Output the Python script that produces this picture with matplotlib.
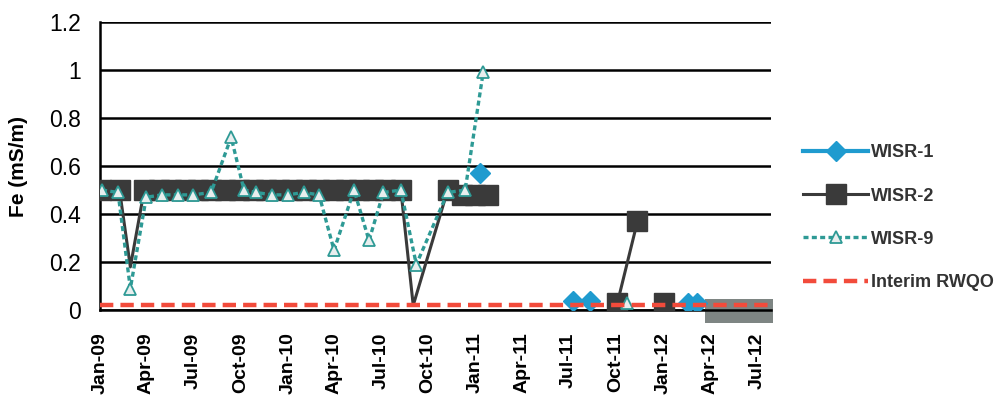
import matplotlib
matplotlib.use("Agg")
import matplotlib.pyplot as plt
import matplotlib.dates as mdates
from matplotlib.patches import Rectangle
import numpy as np
import pandas as pd

plt.rcParams['font.family'] = ['Liberation Sans', 'DejaVu Sans']

# --- WISR-1 (segments separated by None / NaN) ---
wisr1_dates = ["2011-01-10", None, "2011-07-10", "2011-08-12", None, "2012-02-18", "2012-03-06"]
wisr1_vals = [0.57, np.nan, 0.04, 0.04, np.nan, 0.03, 0.03]

# --- WISR-2 ---
wisr2_dates = ["2009-01-03", "2009-02-08", "2009-03-01", "2009-03-28", "2009-04-25",
               "2009-05-20", "2009-06-15", "2009-07-10", "2009-08-05", "2009-09-01",
               "2009-09-28", "2009-10-25", "2009-11-20", "2009-12-15", "2010-01-10",
               "2010-02-05", "2010-03-03", "2010-03-30", "2010-04-25", "2010-05-20",
               "2010-06-15", "2010-07-10", "2010-08-09", "2010-09-02", "2010-11-08",
               "2010-12-05", "2011-01-01", "2011-01-26",
               None, "2011-10-04", "2011-11-12", None, "2012-01-02"]
wisr2_vals = [0.50, 0.50, 0.18, 0.50, 0.50,
              0.50, 0.50, 0.50, 0.50, 0.50,
              0.50, 0.50, 0.50, 0.50, 0.50,
              0.50, 0.50, 0.50, 0.50, 0.50,
              0.50, 0.50, 0.50, 0.02, 0.50,
              0.48, 0.48, 0.48,
              np.nan, 0.03, 0.37, np.nan, 0.03]

# --- WISR-9 ---
wisr9_dates = ["2009-01-05", "2009-02-05", "2009-03-01", "2009-04-01", "2009-05-01",
               "2009-06-01", "2009-07-01", "2009-08-05", "2009-09-13", "2009-10-08",
               "2009-11-01", "2009-12-01", "2010-01-01", "2010-02-01", "2010-03-03",
               "2010-04-01", "2010-05-10", "2010-06-08", "2010-07-06", "2010-08-09",
               "2010-09-08", "2010-11-08", "2010-12-12", "2011-01-16",
               None, "2011-10-22"]
wisr9_vals = [0.50, 0.49, 0.09, 0.47, 0.48,
              0.48, 0.48, 0.49, 0.72, 0.50,
              0.49, 0.48, 0.48, 0.49, 0.48,
              0.25, 0.50, 0.29, 0.49, 0.50,
              0.19, 0.49, 0.50, 0.99,
              np.nan, 0.03]

# --- Interim RWQO guideline ---
rwqo_dates = ["2009-01-01", "2012-07-28"]
rwqo_vals = [0.02, 0.02]

y_ticks = [0, 0.2, 0.4, 0.6, 0.8, 1.0, 1.2]
y_labels = ["0", "0.2", "0.4", "0.6", "0.8", "1", "1.2"]
x_tick_dates = pd.date_range("2009-01-01", "2012-07-01", freq="QS")


def to_num(lst):
    return np.array([mdates.date2num(pd.Timestamp(d)) if d is not None else np.nan
                     for d in lst])


fig = plt.figure(figsize=(10.01, 4.07), dpi=100)
ax = fig.add_axes([0.0999, 0.238, 0.670, 0.708])
ax.xaxis_date()

c1 = "#1f9bcf"
c2 = "#3a3a3a"
c9 = "#2e9a95"
cr = "#f24b3b"

# the two low readings inside the band series are shown by the line only
w2_marks = [i for i, v in enumerate(wisr2_vals) if not (v < 0.3 and i < 28)]
ax.plot(to_num(wisr2_dates), wisr2_vals, color=c2, lw=2.2, marker="s",
        markersize=14.5, markerfacecolor=c2, markeredgecolor=c2, zorder=3,
        markevery=w2_marks, label="WISR-2")
ax.plot(to_num(wisr9_dates), wisr9_vals, color=c9, lw=2.4, ls=(0, (1.5, 1.0)),
        marker="^", markersize=9, markerfacecolor="#e8eeee",
        markeredgecolor=c9, markeredgewidth=1.3, zorder=4, label="WISR-9")
ax.plot(to_num(wisr1_dates), wisr1_vals, color=c1, lw=3, marker="D",
        markersize=10, markerfacecolor=c1, markeredgecolor=c1, zorder=5,
        label="WISR-1")
ax.plot(to_num(rwqo_dates), rwqo_vals, color=cr, lw=3.2, ls=(0, (3, 1.6)),
        zorder=6, label="Interim RWQO")

# grey block at the end of the record
x0 = mdates.date2num(pd.Timestamp("2012-03-22"))
x1 = mdates.date2num(pd.Timestamp("2012-08-01"))
ax.add_patch(Rectangle((x0, -0.055), x1 - x0, 0.1, facecolor="#7e8583",
                       edgecolor="none", clip_on=False, zorder=2))

ax.set_ylim(0, 1.2)
ax.set_xlim(mdates.date2num(pd.Timestamp("2009-01-01")),
            mdates.date2num(pd.Timestamp("2012-07-28")))
ax.set_yticks(y_ticks)
ax.set_yticklabels(y_labels, fontsize=16.5)
ax.set_xticks(mdates.date2num(x_tick_dates))
ax.set_xticklabels([d.strftime("%b-%y") for d in x_tick_dates], rotation=90,
                   fontsize=14, fontweight="bold")
ax.tick_params(axis="x", length=0, pad=16)
ax.tick_params(axis="y", length=0, pad=14)

ax.grid(axis="y", color="black", lw=1.8)
ax.set_axisbelow(True)
for s in ["top", "right"]:
    ax.spines[s].set_visible(False)
ax.spines["left"].set_linewidth(1.8)
ax.spines["bottom"].set_linewidth(1.8)

ax.set_ylabel("Fe (mS/m)", fontsize=15, fontweight="bold")
ax.yaxis.set_label_coords(-0.108, 0.5)

handles, labels = ax.get_legend_handles_labels()
order = [2, 0, 1, 3]
leg = fig.legend([handles[i] for i in order], [labels[i] for i in order],
                 loc="upper left", bbox_to_anchor=(0.786, 0.685), frameon=False,
                 handlelength=3.6, labelspacing=1.45, handletextpad=0.15,
                 prop={"size": 13, "weight": "bold"})
for t in leg.get_texts():
    t.set_color("#333333")

fig.savefig("out.png", dpi=100)
